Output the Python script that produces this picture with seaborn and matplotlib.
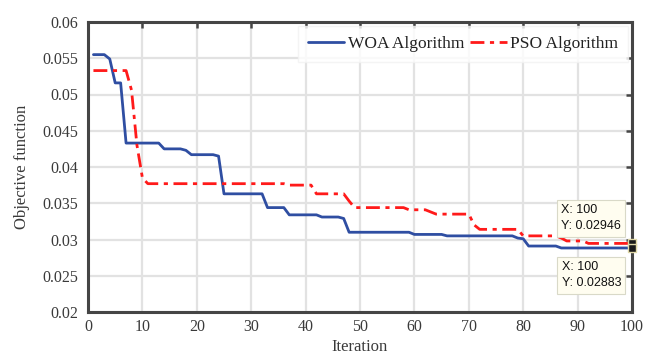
import matplotlib
matplotlib.use("Agg")
import matplotlib.pyplot as plt
import seaborn as sns
import pandas as pd
import numpy as np

iterations = list(range(1, 101))
woa = ([0.0555] * 3 + [0.0549] + [0.0516] * 2 + [0.0433] * 7 + [0.0425] * 4 + [0.0423]
       + [0.0417] * 5 + [0.0415] + [0.0363] * 8 + [0.0344] * 4 + [0.0334] * 6 + [0.0331] * 4
       + [0.0329] + [0.0310] * 12 + [0.0307] * 6 + [0.0305] * 13 + [0.0302] + [0.0301]
       + [0.0291] * 6 + [0.02883] * 14)
pso = ([0.0533] * 7 + [0.0506] + [0.0430] + [0.0385] + [0.0377] * 26 + [0.0375] * 5
       + [0.0363] * 6 + [0.0353] + [0.0344] * 10 + [0.0341] * 4 + [0.0338] + [0.0335] * 7
       + [0.0320] + [0.0314] * 8 + [0.0305] * 7 + [0.0302] + [0.0298] * 4 + [0.02946] * 9)
series_names = ["WOA Algorithm", "PSO Algorithm"]
x_ticks = [0, 10, 20, 30, 40, 50, 60, 70, 80, 90, 100]
y_ticks = [0.02, 0.025, 0.03, 0.035, 0.04, 0.045, 0.05, 0.055, 0.06]
y_tick_labels = ["0.02", "0.025", "0.03", "0.035", "0.04", "0.045", "0.05", "0.055", "0.06"]

df = pd.DataFrame({
    "Iteration": iterations * 2,
    "value": woa + pso,
    "series": [series_names[0]] * len(woa) + [series_names[1]] * len(pso),
})

sns.set_style("white")
plt.rcParams["font.family"] = ["Liberation Serif", "DejaVu Serif"]

fig = plt.figure(figsize=(6.46, 3.6), dpi=100)
ax = fig.add_axes([88 / 646, 1 - 312 / 360, (632 - 88) / 646, (312 - 22) / 360])

palette = {series_names[0]: "#2f4ea2", series_names[1]: "#ff1a1a"}
sns.lineplot(data=df, x="Iteration", y="value", hue="series", palette=palette,
             ax=ax, linewidth=2.0, legend=False)
lines = ax.get_lines()
lines[1].set_dashes([5, 2, 1.5, 2])

ax.set_xlim(0, 100)
ax.set_ylim(0.02, 0.06)
ax.set_xticks(x_ticks)
ax.set_yticks(y_ticks)
ax.set_yticklabels(y_tick_labels)
ax.grid(True, color="#e2e2e2", linewidth=1.6)
ax.set_axisbelow(True)
for s in ax.spines.values():
    s.set_visible(True)
    s.set_color("#454545")
    s.set_linewidth(2.2)
ax.tick_params(direction="in", length=4.5, width=1.8, color="#454545",
               top=True, right=True, labelsize=11.5, labelcolor="#3a3a3a")
ax.tick_params(axis="y", pad=7)
ax.tick_params(axis="x", pad=5)
ax.set_xlabel("Iteration", fontsize=12, color="#3a3a3a", labelpad=3)
ax.set_ylabel("Objective function", fontsize=12, color="#3a3a3a", labelpad=9)

leg = ax.legend(lines, series_names, loc="upper right", ncol=2, fontsize=12.5,
                handlelength=2.1, handletextpad=0.2, columnspacing=0.35,
                frameon=True, fancybox=False, borderaxespad=0.25, borderpad=0.55)
leg.get_frame().set_facecolor("white")
leg.get_frame().set_edgecolor("#f2f2f2")
for t in leg.get_texts():
    t.set_color("#222222")

# data tips
for yv, dy, va in [(pso[-1], 11, "bottom"), (woa[-1], -13, "top")]:
    ax.annotate(f"X: {iterations[-1]}\nY: {yv:.5f}",
                xy=(iterations[-1], yv), xytext=(-11, dy), textcoords="offset pixels",
                ha="right", va=va, multialignment="left", fontsize=9,
                family=["Liberation Sans", "DejaVu Sans"],
                color="#111111", linespacing=1.5,
                bbox=dict(boxstyle="square,pad=0.35", fc="#fffdf0", ec="#d9d9c8", lw=0.8),
                annotation_clip=False)
ax.plot([iterations[-1]], [pso[-1]], marker="s", ms=6, color="#1a1a1a", mec="#e0d8a8",
        mew=1.0, clip_on=False, zorder=5)
ax.plot([iterations[-1]], [woa[-1]], marker="s", ms=6, color="#1a1a1a", mec="#e0d8a8",
        mew=1.0, clip_on=False, zorder=5)

fig.savefig("out.png", dpi=100)
